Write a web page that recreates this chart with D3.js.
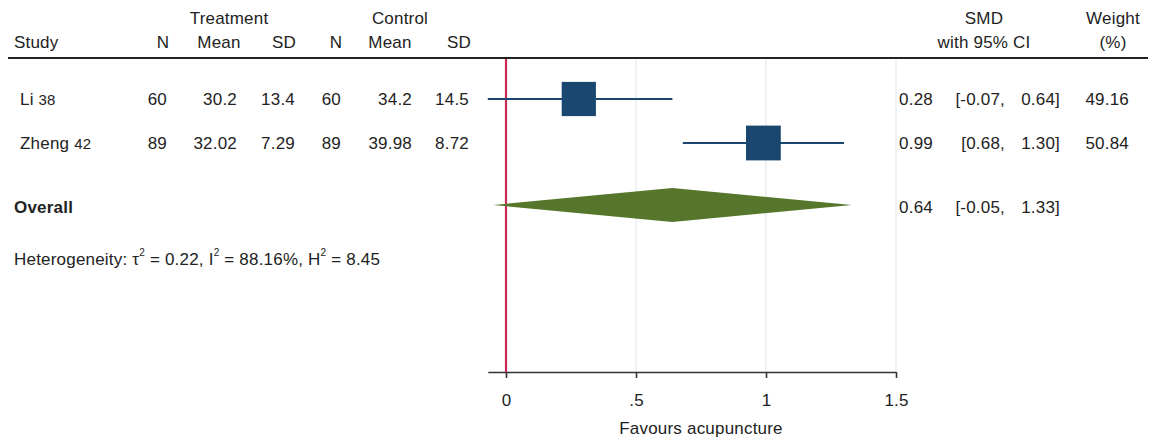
<!DOCTYPE html>
<html>
<head>
<meta charset="utf-8">
<script src="https://cdn.jsdelivr.net/npm/d3@7"></script>
<style>
  html, body { margin: 0; padding: 0; background: #fff; }
  svg text { font-family: "Liberation Sans", Arial, sans-serif; fill: #222; letter-spacing: 0.2px; }
</style>
</head>
<body>
<svg id="chart" width="1151" height="442"></svg>
<script>
// Study-level data
const studies = ["Li", "Zheng"];
const studyRefs = ["38", "42"];
const treatN = [60, 89];
const treatMean = ["30.2", "32.02"];
const treatSD = ["13.4", "7.29"];
const ctrlN = [60, 89];
const ctrlMean = ["34.2", "39.98"];
const ctrlSD = ["14.5", "8.72"];
const smd = [0.28, 0.99];
const ciLow = [-0.07, 0.68];
const ciHigh = [0.64, 1.30];
const weights = [49.16, 50.84];

// Pooled estimate
const overallSmd = 0.64;
const overallLow = -0.05;
const overallHigh = 1.33;
const heterogeneity = { tau2: "0.22", i2: "88.16%", h2: "8.45" };

// Axis
const tickValues = [0, 0.5, 1, 1.5];
const tickLabels = ["0", ".5", "1", "1.5"];
const axisTitle = "Favours acupuncture";

const svg = d3.select("#chart");
const fs = 17;

// Effect scale: 0 -> 506px, 1 -> 766px
const x = d3.scaleLinear().domain([0, 1]).range([506, 766]);
const axisLeft = Math.min(...ciLow);
const xAxisScale = d3.scaleLinear().domain([axisLeft, 1.5]).range([x(axisLeft), x(1.5)]);

const rowY = [99, 143];
const overallY = 205;
const plotTop = 59, axisY = 372;

// Right-hand column edges
const colEst = 933, colLow = 1005, colHigh = 1060, colWeight = 1129;

function txt(g, xp, yp, s, anchor, opts = {}) {
  const t = g.append("text").attr("x", xp).attr("y", yp)
    .attr("text-anchor", anchor || "start")
    .attr("font-size", opts.size || fs)
    .text(s);
  if (opts.bold) t.attr("font-weight", "bold");
  return t;
}

// Column headers
const hdr = svg.append("g");
txt(hdr, 229, 24, "Treatment", "middle");
txt(hdr, 400, 24, "Control", "middle");
txt(hdr, 984, 24, "SMD", "middle");
txt(hdr, 1113, 24, "Weight", "middle");
txt(hdr, 14, 48, "Study", "start");
txt(hdr, 163, 48, "N", "middle");
txt(hdr, 219, 48, "Mean", "middle");
txt(hdr, 284, 48, "SD", "middle");
txt(hdr, 336, 48, "N", "middle");
txt(hdr, 390, 48, "Mean", "middle");
txt(hdr, 459, 48, "SD", "middle");
txt(hdr, 984, 48, "with 95% CI", "middle");
txt(hdr, 1113, 48, "(%)", "middle");

hdr.append("line").attr("x1", 8).attr("x2", 1148).attr("y1", 58).attr("y2", 58)
  .attr("stroke", "#222").attr("stroke-width", 2);

// Gridlines at tick positions (except the null line)
const grid = svg.append("g");
grid.selectAll("line").data(tickValues.filter(d => d !== 0)).join("line")
  .attr("x1", d => x(d)).attr("x2", d => x(d))
  .attr("y1", plotTop + 1).attr("y2", axisY)
  .attr("stroke", "#e2eaf0").attr("stroke-width", 1.2);

// Axis
const axis = d3.axisBottom(xAxisScale)
  .tickValues(tickValues)
  .tickFormat((d, i) => tickLabels[i])
  .tickSize(6)
  .tickSizeOuter(0)
  .tickPadding(16);
const ax = svg.append("g").attr("transform", `translate(0,${axisY})`).call(axis);
ax.select(".domain").attr("stroke", "#333").attr("stroke-width", 1.6);
ax.selectAll(".tick line").attr("stroke", "#333").attr("stroke-width", 1.6);
ax.selectAll(".tick text").attr("font-size", fs).attr("font-family", "Liberation Sans, Arial, sans-serif").attr("fill", "#222");
txt(svg, x(0.75), 434, axisTitle, "middle");

// Null line
svg.append("line").attr("x1", x(0)).attr("x2", x(0))
  .attr("y1", plotTop).attr("y2", axisY)
  .attr("stroke", "#cc2a55").attr("stroke-width", 2.2);

// Study rows
const rows = svg.append("g");
studies.forEach((s, i) => {
  const y = rowY[i] + 6;
  const t = rows.append("text").attr("x", 20).attr("y", y).attr("font-size", fs);
  t.append("tspan").text(s + " ");
  t.append("tspan").attr("font-size", 15).text(studyRefs[i]);
  txt(rows, 167, y, String(treatN[i]), "end");
  txt(rows, 237, y, treatMean[i], "end");
  txt(rows, 295, y, treatSD[i], "end");
  txt(rows, 341, y, String(ctrlN[i]), "end");
  txt(rows, 412, y, ctrlMean[i], "end");
  txt(rows, 469, y, ctrlSD[i], "end");
  txt(rows, colEst, y, smd[i].toFixed(2), "end");
  txt(rows, colLow, y, "[" + ciLow[i].toFixed(2) + ",", "end");
  txt(rows, colHigh, y, ciHigh[i].toFixed(2) + "]", "end");
  txt(rows, colWeight, y, weights[i].toFixed(2), "end");
});

// Confidence intervals and weighted squares
const marks = svg.append("g");
marks.selectAll("line.ci").data(studies).join("line").attr("class", "ci")
  .attr("x1", (d, i) => x(ciLow[i])).attr("x2", (d, i) => x(ciHigh[i]))
  .attr("y1", (d, i) => rowY[i]).attr("y2", (d, i) => rowY[i])
  .attr("stroke", "#1a476f").attr("stroke-width", 2.2);
const sq = w => 34.5 * Math.sqrt(w / 50);
marks.selectAll("rect").data(studies).join("rect")
  .attr("x", (d, i) => x(smd[i]) - sq(weights[i]) / 2)
  .attr("y", (d, i) => rowY[i] - sq(weights[i]) / 2)
  .attr("width", (d, i) => sq(weights[i]))
  .attr("height", (d, i) => sq(weights[i]))
  .attr("fill", "#1a476f");

// Overall diamond
const dh = 17;
svg.append("path")
  .attr("d", `M${x(overallLow)},${overallY} L${x(overallSmd)},${overallY - dh} L${x(overallHigh)},${overallY} L${x(overallSmd)},${overallY + dh} Z`)
  .attr("fill", "#56772b");

txt(svg, 14, overallY + 8, "Overall", "start", { bold: true });
txt(svg, colEst, overallY + 8, overallSmd.toFixed(2), "end");
txt(svg, colLow, overallY + 8, "[" + overallLow.toFixed(2) + ",", "end");
txt(svg, colHigh, overallY + 8, overallHigh.toFixed(2) + "]", "end");

// Heterogeneity statistics
const ht = svg.append("text").attr("x", 14).attr("y", 265).attr("font-size", fs);
ht.append("tspan").text("Heterogeneity: τ");
ht.append("tspan").attr("font-size", 10).attr("dy", -9).text("2");
ht.append("tspan").attr("dy", 9).text(" = " + heterogeneity.tau2 + ", I");
ht.append("tspan").attr("font-size", 10).attr("dy", -9).text("2");
ht.append("tspan").attr("dy", 9).text(" = " + heterogeneity.i2 + ", H");
ht.append("tspan").attr("font-size", 10).attr("dy", -9).text("2");
ht.append("tspan").attr("dy", 9).text(" = " + heterogeneity.h2);
</script>
</body>
</html>
